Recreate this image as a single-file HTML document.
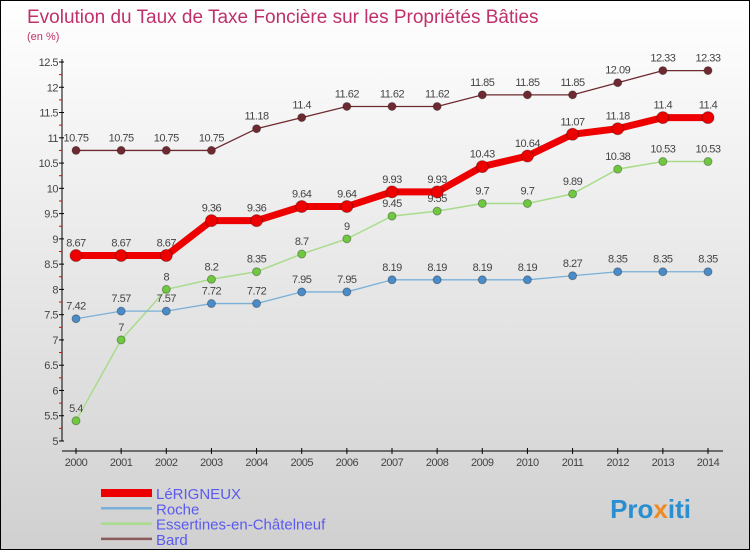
<!DOCTYPE html>
<html><head><meta charset="utf-8"><style>
body{margin:0}
#c{width:750px;height:550px;position:relative;box-sizing:border-box;border:1px solid #000;background:linear-gradient(#fff,#d0d0d0);font-family:"Liberation Sans",sans-serif;overflow:hidden}
</style></head><body>
<div id="c">
<svg id="s" width="748" height="548" style="position:absolute;left:0;top:0">
<text x="26" y="22" font-size="19" fill="#c0306a">Evolution du Taux de Taxe Foncière sur les Propriétés Bâties</text>
<text x="26" y="39" font-size="11" fill="#c0306a">(en %)</text>
<g id="g"></g>
<text x="690" y="517" font-size="26" font-weight="bold" fill="#2a8fd0" text-anchor="end">Pro<tspan fill="#f08a20">x</tspan>iti</text>
</svg>
</div>
<script>
const years=[2000,2001,2002,2003,2004,2005,2006,2007,2008,2009,2010,2011,2012,2013,2014];
const yTicks=[5,5.5,6,6.5,7,7.5,8,8.5,9,9.5,10,10.5,11,11.5,12,12.5];
const seriesNames=["LéRIGNEUX","Roche","Essertines-en-Châtelneuf","Bard"];
const lerigneux=[8.67,8.67,8.67,9.36,9.36,9.64,9.64,9.93,9.93,10.43,10.64,11.07,11.18,11.4,11.4];
const roche=[7.42,7.57,7.57,7.72,7.72,7.95,7.95,8.19,8.19,8.19,8.19,8.27,8.35,8.35,8.35];
const essertines=[5.4,7,8,8.2,8.35,8.7,9,9.45,9.55,9.7,9.7,9.89,10.38,10.53,10.53];
const bard=[10.75,10.75,10.75,10.75,11.18,11.4,11.62,11.62,11.62,11.85,11.85,11.85,12.09,12.33,12.33];
const NS="http://www.w3.org/2000/svg",g=document.getElementById('g');
const X=i=>75+i*(707-75)/(years.length-1);
const Y=v=>440-(v-5)*(440-61)/7.5;
function el(t,a){const e=document.createElementNS(NS,t);for(const k in a)e.setAttribute(k,a[k]);g.appendChild(e);return e;}
let e=el('line',{x1:61,y1:58,x2:61,y2:440,stroke:'#000'});


e=el('line',{x1:61,y1:450,x2:722,y2:450,stroke:'#000'});


yTicks.forEach((v,i)=>{
 el('line',{x1:58,x2:63,y1:Y(v),y2:Y(v),stroke:'#000'});
 if(i<yTicks.length-1)el('line',{x1:58,x2:61,y1:Y(v+0.25),y2:Y(v+0.25),stroke:'#e00'});
 const t=el('text',{x:57,y:Y(v)+4,'font-size':11,'text-anchor':'end',fill:'#444','letter-spacing':'-0.5'});t.textContent=String(v);
 
 
});
years.forEach((y,i)=>{
 el('line',{x1:X(i),x2:X(i),y1:447,y2:453,stroke:'#000'});
 const t=el('text',{x:X(i),y:465,'font-size':11,'text-anchor':'middle',fill:'#444','letter-spacing':'-0.5'});t.textContent=y;
 
 
});
const defs=[[bard,'#6e2a30','#6e2a30',1.3,4,'bard'],[essertines,'#a8dc8a','#70c840',1.5,4,'essertines'],[roche,'#7ab0d8','#4a8cc8',1.3,4,'roche'],[lerigneux,'#ee0000','#ee0000',7,6,'lerigneux']];
defs.forEach(([d,lc,pc,w,r,n])=>{
 const p=el('polyline',{points:d.map((v,i)=>X(i)+','+Y(v)).join(' '),fill:'none',stroke:lc,'stroke-width':w});
 
 
 d.forEach((v,i)=>{
  const c=el('circle',{cx:X(i),cy:Y(v),r:r,fill:pc,stroke:'rgba(0,0,0,0.3)'});
  
  
  const t=el('text',{x:X(i),y:Y(v)-9,'font-size':11,'text-anchor':'middle',fill:'#444','letter-spacing':'-0.5'});t.textContent=String(v);
  
  
 });
});
const lc=['#ee0000','#7ab0d8','#a8dc8a','#8a5a5a'],lw=[8,2.5,2.5,2.5];
seriesNames.forEach((n,i)=>{
 const y=492+i*15.3;
 const l=el('line',{x1:100,x2:151,y1:y,y2:y,stroke:lc[i],'stroke-width':lw[i]});
 
 
 const t=el('text',{x:155,y:y+6,'font-size':15,fill:'#5a5af0'});t.textContent=n;
 
 
});
</script>
</body></html>
